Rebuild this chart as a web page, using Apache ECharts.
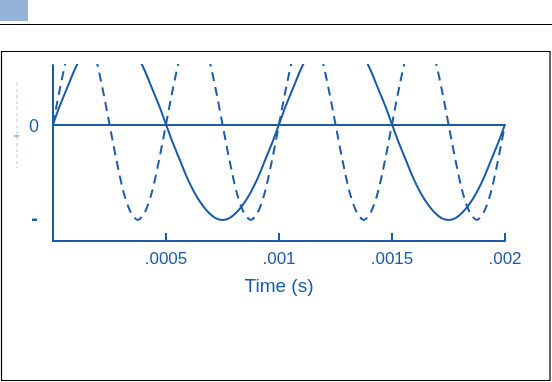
<!DOCTYPE html>
<html>
<head>
<meta charset="utf-8">
<script src="https://cdn.jsdelivr.net/npm/echarts@6/dist/echarts.min.js"></script>
<style>
html,body{margin:0;padding:0;background:#fff;}
#c{width:552px;height:382px;}
</style>
</head>
<body>
<div id="c"></div>
<script>
// Time samples (s), step 0.00003125
var times = [];
for (var i = 0; i <= 64; i++) times.push(+(i * 0.00003125).toFixed(8));

// Solid wave (1 ms period)
var solidValues = [
  0, 0.2, 0.38, 0.56, 0.71, 0.83, 0.92, 0.98, 1, 0.98, 0.92, 0.83, 0.71, 0.56, 0.38, 0.2,
  0, -0.2, -0.38, -0.56, -0.71, -0.83, -0.92, -0.98, -1, -0.98, -0.92, -0.83, -0.71, -0.56, -0.38, -0.2,
  0, 0.2, 0.38, 0.56, 0.71, 0.83, 0.92, 0.98, 1, 0.98, 0.92, 0.83, 0.71, 0.56, 0.38, 0.2,
  0, -0.2, -0.38, -0.56, -0.71, -0.83, -0.92, -0.98, -1, -0.98, -0.92, -0.83, -0.71, -0.56, -0.38, -0.2,
  0
];
// Dashed wave (0.5 ms period)
var dashedValues = [
  0, 0.38, 0.71, 0.92, 1, 0.92, 0.71, 0.38, 0, -0.38, -0.71, -0.92, -1, -0.92, -0.71, -0.38,
  0, 0.38, 0.71, 0.92, 1, 0.92, 0.71, 0.38, 0, -0.38, -0.71, -0.92, -1, -0.92, -0.71, -0.38,
  0, 0.38, 0.71, 0.92, 1, 0.92, 0.71, 0.38, 0, -0.38, -0.71, -0.92, -1, -0.92, -0.71, -0.38,
  0, 0.38, 0.71, 0.92, 1, 0.92, 0.71, 0.38, 0, -0.38, -0.71, -0.92, -1, -0.92, -0.71, -0.38,
  0
];
var xTickLabels = {"0.0005": ".0005", "0.001": ".001", "0.0015": ".0015", "0.002": ".002"};
var yTickValues = [0, -1];
var yTickLabels = {"0": "{z|0}", "-1": "{d|-}"};
var xName = "Time (s)";

var blue = "#1c5ba6";
var font = 'Liberation Sans, Arial, sans-serif';
function zip(xs, ys) { return xs.map(function (x, i) { return [x, ys[i]]; }); }

var chart = echarts.init(document.getElementById('c'), null, {renderer: 'canvas'});
chart.setOption({
  animation: false,
  backgroundColor: '#fff',
  graphic: [
    {type: 'rect', shape: {x: 0, y: 0, width: 28, height: 21}, style: {fill: '#95b3d7'}},
    {type: 'line', shape: {x1: 0, y1: 24.5, x2: 552, y2: 24.5}, style: {stroke: '#000', lineWidth: 1}},
    {type: 'rect', shape: {x: 1.5, y: 51.5, width: 548.5, height: 329}, style: {fill: 'none', stroke: '#000', lineWidth: 1.2}},
    {type: 'line', shape: {x1: 17, y1: 83, x2: 17, y2: 168}, style: {stroke: '#b9c6da', lineWidth: 1, lineDash: [3, 3]}},
    {type: 'line', shape: {x1: 14, y1: 136, x2: 19, y2: 136}, style: {stroke: '#8aa0c0', lineWidth: 1.5}}
  ],
  grid: {left: 53, right: 47, top: 65, bottom: 141, containLabel: false},
  xAxis: {
    type: 'value', min: 0, max: 0.002, interval: 0.0005,
    name: xName, nameLocation: 'middle', nameGap: 36,
    nameTextStyle: {color: blue, fontSize: 19, fontFamily: font},
    axisLine: {show: true, onZero: false, lineStyle: {color: blue, width: 2}},
    axisTick: {show: true, inside: true, length: 8, lineStyle: {color: blue, width: 2}},
    axisLabel: {
      color: blue, fontSize: 17, margin: 10, fontFamily: font,
      formatter: function (v) { var k = String(+v.toFixed(6)); return xTickLabels[k] || ''; }
    },
    splitLine: {show: false}
  },
  yAxis: {
    type: 'value', min: -1.22, max: 0.62,
    axisLine: {show: true, onZero: false, lineStyle: {color: blue, width: 2}},
    axisTick: {show: false},
    axisLabel: {
      color: blue, fontSize: 17, margin: 14, fontFamily: font,
      customValues: yTickValues,
      formatter: function (v) { return yTickLabels[String(v)] || ''; },
      rich: {
        z: {fontSize: 18, color: blue, fontFamily: font, padding: [6, 0, 0, 0]},
        d: {fontSize: 20, fontWeight: 'bold', color: blue, fontFamily: font, padding: [0, 1, 0, 0]}
      }
    },
    splitLine: {show: false}
  },
  series: [
    {
      type: 'line', data: zip(times, solidValues), smooth: 0.3, showSymbol: false,
      clip: true,
      lineStyle: {color: blue, width: 2},
      markLine: {
        silent: true, symbol: ['none', 'none'], label: {show: false},
        lineStyle: {color: blue, width: 2, type: 'solid'},
        data: [[{coord: [0, 0]}, {coord: [0.002, 0]}]]
      }
    },
    {
      type: 'line', data: zip(times, dashedValues), smooth: 0.3, showSymbol: false,
      clip: true,
      lineStyle: {color: blue, width: 2, type: [9, 6]}
    }
  ]
});
</script>
</body>
</html>
